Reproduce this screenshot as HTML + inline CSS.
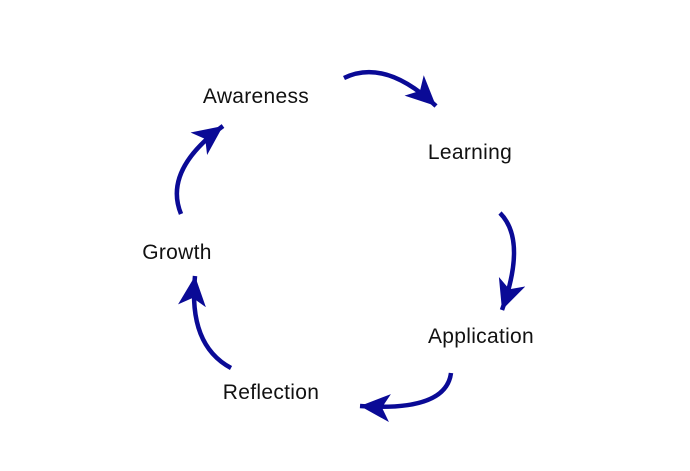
<!DOCTYPE html>
<html><head><style>
html,body{margin:0;padding:0;background:#fff;}
svg{display:block}
text{font-family:"Liberation Sans",sans-serif;font-size:21px;letter-spacing:0.3px;fill:#111;}
</style></head><body>
<svg width="690" height="471" viewBox="0 0 690 471">
<defs>
<marker id="a" markerUnits="userSpaceOnUse" markerWidth="34" markerHeight="34" refX="30" refY="14" orient="auto">
<path d="M0 0 L30 14 L0 28 L8 14 Z" fill="#0a0a96"/>
</marker>
</defs>
<g fill="none" stroke="#0a0a96" stroke-width="4.5" stroke-linecap="butt" marker-end="url(#a)">
<path d="M344 78 Q385 58 436 106"/>
<path d="M500 213 Q527 240 502 310"/>
<path d="M451 373 Q446 412 360 406"/>
<path d="M231 368 Q188 345 195 276"/>
<path d="M181 214 Q163 170 223 126"/>
</g>
<text x="256" y="103" text-anchor="middle">Awareness</text>
<text x="470" y="159" text-anchor="middle">Learning</text>
<text x="481" y="343" text-anchor="middle">Application</text>
<text x="271" y="399" text-anchor="middle">Reflection</text>
<text x="177" y="259" text-anchor="middle">Growth</text>
</svg>
</body></html>
